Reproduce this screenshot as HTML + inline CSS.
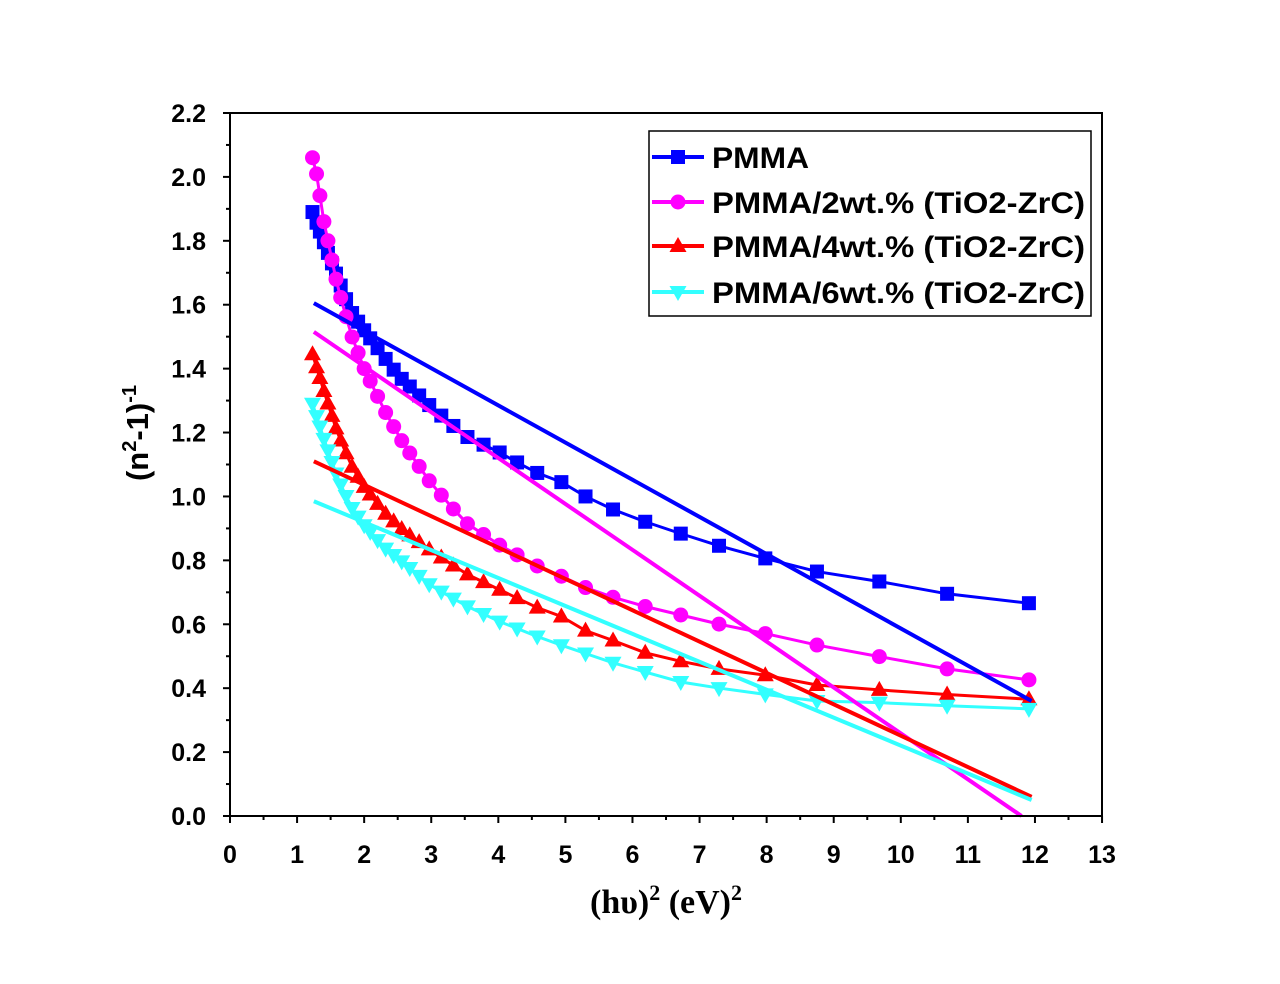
<!DOCTYPE html>
<html><head><meta charset="utf-8"><style>
html,body{margin:0;padding:0;background:#fff}
svg text{font-family:"Liberation Sans",sans-serif;font-weight:bold}
</style></head><body>
<svg id="s" width="1280" height="979" xmlns="http://www.w3.org/2000/svg">
<rect width="1280" height="979" fill="#fff"/>
<g id="ax"></g>
<g id="data"></g>
<rect x="230" y="113" width="872" height="703" fill="none" stroke="#000" stroke-width="2"/>
<rect x="649" y="131" width="442" height="185" fill="#fff" stroke="#000" stroke-width="1.5"/>
<g id="leg"></g>
<text x="666" y="913" text-anchor="middle" font-size="34" style="font-family:'Liberation Serif',serif">(hυ)<tspan dy="-13" font-size="22">2</tspan><tspan dy="13"> (eV)</tspan><tspan dy="-13" font-size="22">2</tspan></text>
<text transform="translate(148,433) rotate(-90)" text-anchor="middle" font-size="31">(n<tspan dy="-12" font-size="20">2</tspan><tspan dy="12">-1)</tspan><tspan dy="-12" font-size="20">-1</tspan></text>
</svg>
<script>
const NS="http://www.w3.org/2000/svg";
const X=v=>230+v*67.08, Y=v=>816-v*319.55;
function el(p,t,a,txt){const e=document.createElementNS(NS,t);for(const k in a)e.setAttribute(k,a[k]);if(txt!==undefined)e.textContent=txt;p.appendChild(e);return e;}
const ax=document.getElementById('ax');
for(let i=0;i<=13;i++){el(ax,'line',{x1:X(i),x2:X(i),y1:816,y2:823,stroke:'#000','stroke-width':2});
 el(ax,'text',{x:X(i),y:863,'text-anchor':'middle','font-size':25},i);
 if(i<13)el(ax,'line',{x1:X(i+.5),x2:X(i+.5),y1:816,y2:820,stroke:'#000','stroke-width':2});}
for(let i=0;i<=11;i++){const v=i*0.2;el(ax,'line',{x1:223,x2:230,y1:Y(v),y2:Y(v),stroke:'#000','stroke-width':2});
 el(ax,'text',{x:206,y:Y(v)+9,'text-anchor':'end','font-size':25},v.toFixed(1));
 if(i<11)el(ax,'line',{x1:226,x2:230,y1:Y(v+.1),y2:Y(v+.1),stroke:'#000','stroke-width':2});}
const xs=[1.23,1.29,1.34,1.40,1.46,1.52,1.58,1.65,1.73,1.82,1.91,2.0,2.09,2.2,2.32,2.44,2.56,2.68,2.82,2.97,3.15,3.33,3.54,3.78,4.02,4.28,4.58,4.94,5.3,5.71,6.19,6.72,7.29,7.98,8.75,9.68,10.69,11.91];
const S=[
{c:'#0000ff',m:'sq',fit:[[1.25,1.605],[11.95,0.36]],a:[[1.23,1.89],[1.5,1.74],[1.8,1.58],[2,1.52],[2.5,1.38],[3,1.28],[3.5,1.19],[4,1.14],[4.5,1.08],[5,1.04],[5.3,1.0],[5.7,0.96],[6.2,0.92],[6.7,0.885],[7.3,0.845],[8,0.805],[8.75,0.765],[9.65,0.735],[10.7,0.695],[11.95,0.665]]},
{c:'#ff00ff',m:'ci',fit:[[1.25,1.515],[11.8,0.0]],a:[[1.23,2.06],[1.26,2.05],[1.4,1.86],[1.6,1.66],[1.8,1.51],[2,1.40],[2.3,1.27],[2.6,1.16],[3,1.04],[3.5,0.92],[4,0.85],[4.6,0.78],[5,0.745],[5.3,0.715],[5.7,0.685],[6.2,0.655],[6.7,0.63],[7.3,0.60],[8,0.57],[8.75,0.535],[9.65,0.50],[10.7,0.46],[11.95,0.425]]},
{c:'#ff0000',m:'tu',fit:[[1.25,1.11],[11.95,0.06]],a:[[1.23,1.445],[1.4,1.33],[1.6,1.20],[1.8,1.10],[2,1.03],[2.3,0.95],[2.6,0.89],[3,0.83],[3.5,0.76],[4,0.71],[4.6,0.65],[5,0.62],[5.3,0.58],[5.7,0.55],[6.2,0.51],[6.7,0.485],[7.3,0.46],[8,0.44],[8.75,0.41],[9.65,0.395],[10.7,0.38],[11.95,0.365]]},
{c:'#33ffff',m:'td',fit:[[1.25,0.985],[11.95,0.05]],a:[[1.23,1.29],[1.4,1.18],[1.6,1.06],[1.8,0.97],[2,0.91],[2.3,0.84],[2.6,0.79],[3,0.72],[3.5,0.66],[4,0.61],[4.6,0.56],[5,0.53],[5.7,0.48],[6.2,0.45],[6.7,0.42],[7.3,0.40],[8,0.38],[8.75,0.36],[9.65,0.355],[10.7,0.345],[11.95,0.335]]}];
function interp(a,x){for(let i=0;i<a.length-1;i++){if(x<=a[i+1][0]){const t=(x-a[i][0])/(a[i+1][0]-a[i][0]);return a[i][1]+t*(a[i+1][1]-a[i][1]);}}return a[a.length-1][1];}
function mk(g,m,c,x,y){const r=7;
 if(m=='sq')el(g,'rect',{x:x-r,y:y-r,width:2*r,height:2*r,fill:c});
 else if(m=='ci')el(g,'circle',{cx:x,cy:y,r:r+0.5,fill:c});
 else if(m=='tu')el(g,'polygon',{points:`${x},${y-9} ${x-8.5},${y+6} ${x+8.5},${y+6}`,fill:c});
 else el(g,'polygon',{points:`${x},${y+9} ${x-8.5},${y-6} ${x+8.5},${y-6}`,fill:c});}
const d=document.getElementById('data');
S.forEach(s=>{const pts=xs.map(x=>[X(x),Y(interp(s.a,x))]);
 el(d,'polyline',{points:pts.map(p=>p.join(',')).join(' '),fill:'none',stroke:s.c,'stroke-width':3});
 pts.forEach(p=>mk(d,s.m,s.c,p[0],p[1]));});
S.forEach(s=>{el(d,'line',{x1:X(s.fit[0][0]),y1:Y(s.fit[0][1]),x2:X(s.fit[1][0]),y2:Y(s.fit[1][1]),stroke:s.c,'stroke-width':4});});
const L=['PMMA','PMMA/2wt.% (TiO2-ZrC)','PMMA/4wt.% (TiO2-ZrC)','PMMA/6wt.% (TiO2-ZrC)'],ly=[157,202,246,292];
const lg=document.getElementById('leg');
S.forEach((s,i)=>{el(lg,'line',{x1:652,x2:704,y1:ly[i],y2:ly[i],stroke:s.c,'stroke-width':4});mk(lg,s.m,s.c,678,ly[i]);
 el(lg,'text',{x:712,y:ly[i]+11,'font-size':30,textLength:i?373:97,lengthAdjust:'spacingAndGlyphs'},L[i]);});
</script>
</body></html>
